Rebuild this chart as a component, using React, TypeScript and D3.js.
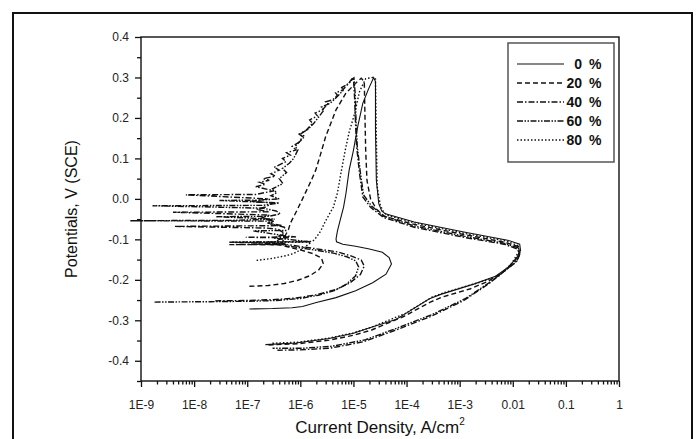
import React, { useEffect, useRef } from "react";
import * as d3 from "d3";

// polarization data, [current density A/cm2, potential V]
const series0: [number, number][] = [
  [1.1e-7, -0.272], [3e-7, -0.271], [7e-7, -0.269], [1.1e-6, -0.266], [2e-6, -0.256],
  [4.7e-6, -0.244], [1.1e-5, -0.227], [2.3e-5, -0.207], [4.1e-5, -0.186], [5.2e-5, -0.161],
  [4.7e-5, -0.145], [3.5e-5, -0.132], [2e-5, -0.124], [1.1e-5, -0.117], [6.3e-6, -0.112],
  [4.8e-6, -0.106], [4.7e-6, -0.099], [5e-6, -0.079], [5.6e-6, -0.054], [6.5e-6, -0.021],
  [7.2e-6, 0.012], [8.3e-6, 0.071], [1e-5, 0.12], [1.2e-5, 0.178], [1.5e-5, 0.236],
  [1.9e-5, 0.27], [2.4e-5, 0.3], [2.6e-5, 0.29], [2.6e-5, 0.17], [2.7e-5, 0.046],
  [3e-5, -0.012], [3.4e-5, -0.03], [4e-5, -0.037], [1.4e-4, -0.057], [1.2e-3, -0.082],
  [8e-3, -0.102], [0.0135, -0.112], [0.014, -0.127], [0.0118, -0.146], [0.008, -0.17],
  [4.6e-3, -0.192], [1.9e-3, -0.21], [4.4e-4, -0.236], [2.7e-4, -0.247], [8.9e-5, -0.286],
  [6.3e-5, -0.298], [2.1e-5, -0.318], [1e-5, -0.332], [3.5e-6, -0.345], [8.3e-7, -0.356],
  [2.2e-7, -0.36],
];

const series20: [number, number][] = [
  [1.1e-7, -0.216], [2.5e-7, -0.214], [5e-7, -0.209], [9e-7, -0.201], [1.5e-6, -0.19],
  [2.2e-6, -0.176], [2.7e-6, -0.16], [2.5e-6, -0.146], [1.7e-6, -0.135], [1e-6, -0.126],
  [6e-7, -0.119], [4.2e-7, -0.114], [1.3e-7, -0.112], [4.5e-7, -0.11], [5e-7, -0.095],
  [6e-7, -0.075], [6.5e-7, -0.06], [8.5e-7, -0.03], [1.1e-6, 0.0], [1.6e-6, 0.045],
  [1.95e-6, 0.071], [2.4e-6, 0.11], [3e-6, 0.154], [4.7e-6, 0.22], [7.2e-6, 0.261],
  [1.1e-5, 0.286], [1.4e-5, 0.298], [1.6e-5, 0.29], [1.65e-5, 0.2], [1.7e-5, 0.12],
  [1.8e-5, 0.045], [2.1e-5, 0.0], [2.7e-5, -0.025], [3.8e-5, -0.043], [1.4e-4, -0.063],
  [1.2e-3, -0.088], [7e-3, -0.107], [0.0128, -0.118], [0.0132, -0.133], [0.0108, -0.155],
  [7e-3, -0.178], [3.5e-3, -0.203], [1.6e-3, -0.222], [4.6e-4, -0.243], [2.8e-4, -0.255],
  [9e-5, -0.29], [2.2e-5, -0.324], [1e-5, -0.337], [3.5e-6, -0.349], [9e-7, -0.358],
  [2.4e-7, -0.361],
];

const series40: [number, number][] = [
  [2.5e-8, -0.252], [1e-7, -0.251], [3e-7, -0.249], [8.3e-7, -0.245], [2e-6, -0.237],
  [4.7e-6, -0.224], [8.5e-6, -0.208], [1.35e-5, -0.187], [1.6e-5, -0.166], [1.4e-5, -0.151],
  [9e-6, -0.141], [5e-6, -0.131], [2.4e-6, -0.125], [1.2e-6, -0.119], [6.5e-7, -0.114],
  [5e-7, -0.113], [4.6e-8, -0.113], [5.3e-7, -0.112], [3.5e-7, -0.105], [4e-7, -0.1],
  [6e-7, -0.096], [9.4e-8, -0.095], [8.3e-7, -0.094], [4.2e-7, -0.09], [5e-7, -0.085],
  [3.8e-7, -0.075], [2.2e-7, -0.072], [4.2e-9, -0.068], [5.4e-8, -0.067], [4.5e-7, -0.066],
  [2.4e-7, -0.06], [3.2e-7, -0.055], [1.8e-7, -0.048], [2.6e-7, -0.04], [4e-9, -0.033],
  [2.6e-7, -0.032], [1.5e-7, -0.026], [2.2e-7, -0.02], [3e-7, -0.01], [1.2e-7, -0.006],
  [2.5e-7, 0.0], [7e-9, 0.01], [1.45e-7, 0.011], [3.2e-7, 0.02], [1.45e-7, 0.03],
  [2.2e-7, 0.036], [1.7e-7, 0.041], [2.6e-7, 0.046], [2e-7, 0.05], [3.4e-7, 0.056],
  [2.8e-7, 0.062], [4e-7, 0.071], [3.2e-7, 0.078], [5.4e-7, 0.092], [4.6e-7, 0.1],
  [6.5e-7, 0.108], [5.5e-7, 0.114], [8.3e-7, 0.121], [7e-7, 0.13], [9.5e-7, 0.14],
  [1.1e-6, 0.154], [9.5e-7, 0.16], [1.3e-6, 0.17], [1.7e-6, 0.187], [1.5e-6, 0.195],
  [2.1e-6, 0.205], [1.9e-6, 0.212], [2.6e-6, 0.22], [3.3e-6, 0.235], [3e-6, 0.24],
  [4.1e-6, 0.245], [5e-6, 0.256], [4.6e-6, 0.262], [6.3e-6, 0.269], [7.8e-6, 0.283],
  [9.3e-6, 0.296], [1e-5, 0.3], [1.05e-5, 0.25], [1.1e-5, 0.18], [1.15e-5, 0.129],
  [1.3e-5, 0.063], [1.5e-5, 0.005], [2.1e-5, -0.021], [3.7e-5, -0.046], [1.4e-4, -0.07],
  [1.2e-3, -0.095], [6.9e-3, -0.112], [0.0123, -0.124], [0.0135, -0.137], [0.0117, -0.156],
  [7e-3, -0.178], [3.5e-3, -0.21], [1.2e-3, -0.251], [2.8e-4, -0.291], [6.6e-5, -0.323],
  [1.55e-5, -0.353], [3.6e-6, -0.369], [1e-6, -0.373], [3.7e-7, -0.374],
];

const series60: [number, number][] = [
  [1.8e-9, -0.255], [2e-8, -0.254], [1e-7, -0.253], [3.5e-7, -0.251], [1e-6, -0.246],
  [2.2e-6, -0.238], [4.5e-6, -0.226], [7.5e-6, -0.21], [1.1e-5, -0.19], [1.25e-5, -0.168],
  [1.1e-5, -0.153], [7.5e-6, -0.143], [4.2e-6, -0.134], [2e-6, -0.127], [1e-6, -0.121],
  [5.5e-7, -0.116], [4e-7, -0.11], [4.6e-8, -0.107], [1.5e-6, -0.106], [6e-7, -0.1],
  [3.2e-7, -0.097], [4.5e-7, -0.09], [1.3e-7, -0.079], [5.3e-7, -0.078], [5e-7, -0.07],
  [2.8e-7, -0.062], [3e-7, -0.055], [6.2e-10, -0.054], [5.4e-8, -0.053], [3.3e-7, -0.05],
  [2.6e-8, -0.044], [2.6e-7, -0.043], [4.2e-7, -0.037], [3.5e-7, -0.03], [2e-7, -0.023],
  [1.65e-9, -0.017], [1.95e-7, -0.016], [4e-7, -0.01], [3e-8, -0.004], [1.7e-7, -0.003],
  [4e-7, 0.0], [2.8e-7, 0.008], [3.6e-7, 0.015], [3e-7, 0.025], [4.7e-7, 0.038],
  [4e-7, 0.05], [5.5e-7, 0.065], [4.6e-7, 0.075], [6.2e-7, 0.088], [7.5e-7, 0.1],
  [9e-7, 0.121], [8e-7, 0.13], [1.2e-6, 0.154], [1.05e-6, 0.162], [1.4e-6, 0.172],
  [1.8e-6, 0.187], [2.3e-6, 0.205], [2.8e-6, 0.22], [2.5e-6, 0.227], [3.6e-6, 0.236],
  [4.3e-6, 0.245], [5.4e-6, 0.258], [6.5e-6, 0.269], [6e-6, 0.275], [8.2e-6, 0.285],
  [9.6e-6, 0.296], [1.02e-5, 0.299], [1.08e-5, 0.26], [1.12e-5, 0.19], [1.18e-5, 0.13],
  [1.35e-5, 0.065], [1.55e-5, 0.01], [2.2e-5, -0.018], [3.8e-5, -0.043], [1.4e-4, -0.067],
  [1.2e-3, -0.092], [7e-3, -0.11], [0.0128, -0.121], [0.0137, -0.135], [0.012, -0.152],
  [7.5e-3, -0.175], [3.8e-3, -0.205], [1.3e-3, -0.246], [3e-4, -0.286], [7e-5, -0.318],
  [1.7e-5, -0.348], [4e-6, -0.364], [1.1e-6, -0.369], [3e-7, -0.369],
];

const series80: [number, number][] = [
  [1.5e-7, -0.152], [3e-7, -0.147], [5.5e-7, -0.14], [7.5e-7, -0.135], [1e-6, -0.126],
  [1.4e-6, -0.113], [1.6e-6, -0.107], [5e-8, -0.107], [1.7e-6, -0.105], [2e-6, -0.095],
  [2.4e-6, -0.08], [3e-6, -0.054], [4.2e-6, -0.02], [5e-6, 0.015], [5.8e-6, 0.063],
  [7e-6, 0.12], [8.3e-6, 0.165], [1.05e-5, 0.21], [1.3e-5, 0.265], [1.7e-5, 0.297],
  [2.3e-5, 0.3], [2.6e-5, 0.296], [2.7e-5, 0.15], [2.8e-5, 0.03], [3.2e-5, -0.015],
  [3.6e-5, -0.03], [4.2e-5, -0.04], [1.5e-4, -0.06], [1.2e-3, -0.085], [7.5e-3, -0.104],
  [0.0128, -0.116], [0.013, -0.13], [9.5e-3, -0.16], [5.5e-3, -0.19], [2.4e-3, -0.206],
  [5e-4, -0.232], [3e-4, -0.243], [9.5e-5, -0.283], [2.2e-5, -0.317], [1e-5, -0.331],
  [3.5e-6, -0.344], [9e-7, -0.354], [2.8e-7, -0.357],
];

const legendLabels = ["0", "20", "40", "60", "80"];
const currentDecades = [1e-9, 1e-8, 1e-7, 1e-6, 1e-5, 1e-4, 1e-3, 1e-2, 1e-1, 1];
const currentLabels = ["1E-9", "1E-8", "1E-7", "1E-6", "1E-5", "1E-4", "1E-3", "0.01", "0.1", "1"];
const potentialMajor = [0.4, 0.3, 0.2, 0.1, 0, -0.1, -0.2, -0.3, -0.4];
const potentialLabels = ["0.4", "0.3", "0.2", "0.1", "0.0", "-0.1", "-0.2", "-0.3", "-0.4"];
const potentialMinor = [0.35, 0.25, 0.15, 0.05, -0.05, -0.15, -0.25, -0.35, -0.45];

const allSeries = [series0, series20, series40, series60, series80];
const dashStyles = ["", "5,3", "6,2,1.5,2", "6,1.5,1.5,1.5,1.5,1.5", "1.5,2"];
const FONT = "'Liberation Sans', Arial, sans-serif";

const Axis = ({ scale, orient, transform, values, size, labels, padding }: any) => {
  const axisRef = useRef<SVGGElement>(null);

  useEffect(() => {
    const gen = orient === "bottom" ? d3.axisBottom(scale) : d3.axisLeft(scale);
    gen
      .tickValues(values)
      .tickSize(size)
      .tickPadding(padding || 3)
      .tickFormat((d: any, i: number) => (labels ? labels[i] : ""));
    const g = d3.select(axisRef.current).call(gen as any);
    g.select(".domain").remove();
    g.selectAll("text")
      .attr("font-family", FONT)
      .attr("font-size", 12)
      .attr("fill", "#222");
    g.selectAll("line").attr("stroke", "#111").attr("stroke-width", 1.3);
  }, [scale, orient, values, size, labels, padding]);

  return <g ref={axisRef} transform={transform} />;
};

const App = () => {
  const width = 699;
  const height = 439;
  const margin = { top: 37, right: 80, bottom: 58, left: 141 };
  const innerW = width - margin.left - margin.right;
  const innerH = height - margin.top - margin.bottom;

  const xScale = d3.scaleLog().domain([1e-9, 1]).range([0, innerW]);
  const yScale = d3.scaleLinear().domain([-0.45, 0.4]).range([innerH, 0]);

  const minorCurrent: number[] = [];
  currentDecades.slice(0, -1).forEach((d) => {
    for (let k = 2; k <= 9; k++) minorCurrent.push(d * k);
  });

  const line = d3
    .line<[number, number]>()
    .x((d) => xScale(d[0]))
    .y((d) => yScale(d[1]));

  return (
    <svg width={width} height={height} style={{ position: "absolute", left: 0, top: 0, background: "#fff" }}>
      <rect x={13} y={13} width={679} height={460} fill="none" stroke="#111" strokeWidth={2} />
      <g transform={`translate(${margin.left},${margin.top})`}>
        {allSeries.map((s, i) => (
          <path
            key={i}
            d={line(s) || ""}
            fill="none"
            stroke="#111"
            strokeWidth={i === 0 ? 1.1 : 1.4}
            strokeDasharray={dashStyles[i] || undefined}
          />
        ))}
        <rect x={0} y={0} width={innerW} height={innerH} fill="none" stroke="#111" strokeWidth={1.4} />
        <Axis scale={xScale} orient="bottom" transform={`translate(0,${innerH})`} values={currentDecades} size={6} labels={currentLabels} padding={13} />
        <Axis scale={xScale} orient="bottom" transform={`translate(0,${innerH})`} values={minorCurrent} size={3.5} />
        <Axis scale={yScale} orient="left" transform="translate(0,0)" values={potentialMajor} size={6} labels={potentialLabels} padding={6} />
        <Axis scale={yScale} orient="left" transform="translate(0,0)" values={potentialMinor} size={4} />
        <text x={innerW / 2} y={innerH + 52} textAnchor="middle" fontFamily={FONT} fontSize={17} fill="#111">
          Current Density, A/cm
          <tspan fontSize={10} dy={-8}>2</tspan>
        </text>
        <text transform={`translate(-64,${innerH / 2}) rotate(-90)`} textAnchor="middle" fontFamily={FONT} fontSize={16} fill="#111">
          Potentials, V (SCE)
        </text>
        <g transform={`translate(${508 - margin.left},${43 - margin.top})`}>
          <rect x={0} y={0} width={106} height={119} fill="none" stroke="#555" strokeWidth={1.5} />
          {legendLabels.map((lab, i) => (
            <g key={lab} transform={`translate(0,${21 + i * 19})`}>
              <line x1={9} x2={56} y1={0} y2={0} stroke="#111" strokeWidth={i === 0 ? 1.1 : 1.4} strokeDasharray={dashStyles[i] || undefined} />
              <text x={74} y={5} textAnchor="end" fontFamily={FONT} fontWeight="bold" fontSize={14} fill="#111">{lab}</text>
              <text x={81} y={5} fontFamily={FONT} fontWeight="bold" fontSize={14} fill="#111">%</text>
            </g>
          ))}
        </g>
      </g>
    </svg>
  );
};

export default App;
